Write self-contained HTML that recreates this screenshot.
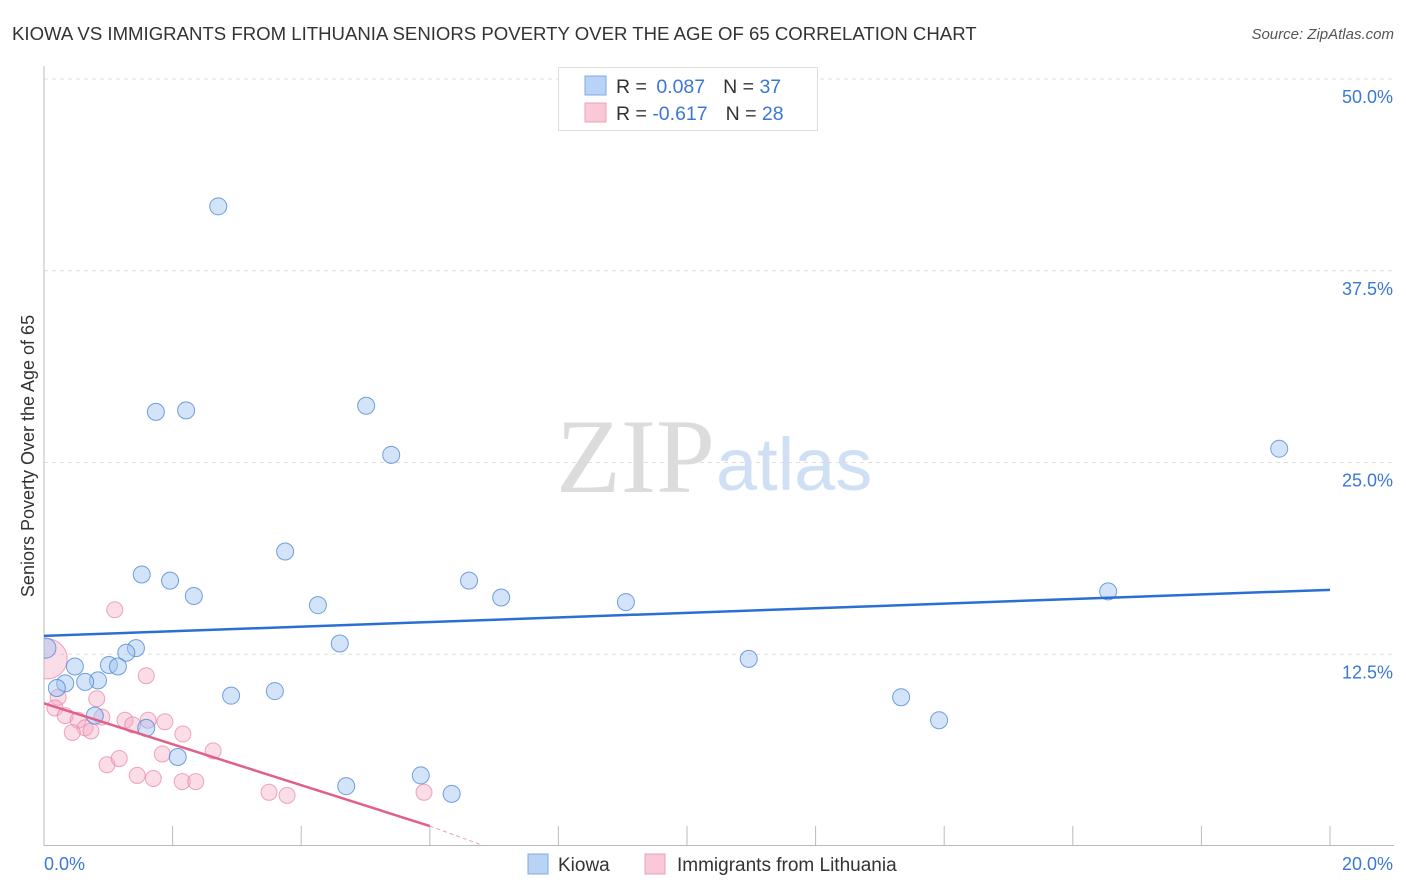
<!DOCTYPE html>
<html><head><meta charset="utf-8">
<style>
body{margin:0;background:#fff;font-family:"Liberation Sans",sans-serif;}
#wrap{position:relative;width:1406px;height:892px;overflow:hidden;}
</style></head>
<body>
<div id="wrap">
<svg id="chart" width="1406" height="892" xmlns="http://www.w3.org/2000/svg">
<defs><clipPath id="plotclip"><rect x="44" y="60" width="1360" height="786"/></clipPath></defs>
<text x="12" y="40" font-size="18.6" fill="#333">KIOWA VS IMMIGRANTS FROM LITHUANIA SENIORS POVERTY OVER THE AGE OF 65 CORRELATION CHART</text>
<text x="1394" y="39" font-size="15" fill="#555" font-style="italic" text-anchor="end">Source: ZipAtlas.com</text>
<text x="715" y="492" font-size="106" fill="#dcdcdc" text-anchor="end" font-family="Liberation Serif">ZIP</text>
<text x="716" y="490" font-size="74" fill="#cfe0f5">atlas</text>
<text transform="translate(34,456) rotate(-90)" font-size="18" fill="#333" text-anchor="middle">Seniors Poverty Over the Age of 65</text>
<g id="grid"></g><g id="marks" clip-path="url(#plotclip)"></g>
<g>
<rect x="558.5" y="67.5" width="259" height="63" fill="#fff" stroke="#ddd"/>
<rect x="585" y="76" width="21" height="19" fill="#b8d3f5" stroke="#7fa9e0"/>
<rect x="585" y="103" width="21" height="19" fill="#f9c9d7" stroke="#eda0b8"/>
<text x="616" y="93" font-size="19.5" fill="#333">R = <tspan fill="#3a78d4" dx="4">0.087</tspan><tspan dx="18" fill="#333">N = </tspan><tspan fill="#3a78d4">37</tspan></text>
<text x="616" y="120" font-size="19.5" fill="#333">R = <tspan fill="#3a78d4">-0.617</tspan><tspan dx="18" fill="#333">N = </tspan><tspan fill="#3a78d4">28</tspan></text>
</g>
<g>
<rect x="528" y="854" width="20" height="20" fill="#b8d3f5" stroke="#7fa9e0"/>
<text x="558" y="871" font-size="19" fill="#333">Kiowa</text>
<rect x="645" y="854" width="20" height="20" fill="#f9c9d7" stroke="#eda0b8"/>
<text x="677" y="871" font-size="19" fill="#333">Immigrants from Lithuania</text>
</g>
</svg>
</div>
<script>
const yTicks=[12.5,25,37.5,50];
const yTickLabels=["12.5%","25.0%","37.5%","50.0%"];
const xTickLabels=["0.0%","20.0%"];
const kiowaX=[2.71,1.74,2.21,5.01,5.40,19.21,3.75,1.52,1.96,2.33,4.26,6.61,7.11,9.05,16.55,4.60,1.43,1.28,10.96,0.03,0.48,1.01,1.15,0.33,0.84,0.64,0.20,2.91,3.59,13.33,13.92,0.79,1.59,2.08,4.70,5.86,6.34];
const kiowaY=[41.7,28.3,28.4,28.7,25.5,25.9,19.2,17.7,17.3,16.3,15.7,17.3,16.2,15.9,16.6,13.2,12.9,12.6,12.2,12.9,11.7,11.8,11.7,10.6,10.8,10.7,10.3,9.8,10.1,9.7,8.2,8.5,7.7,5.8,3.9,4.6,3.4];
const lithX=[1.10,1.59,0.22,0.82,0.17,0.33,0.90,0.53,0.64,0.44,0.73,1.26,1.38,1.62,1.88,2.16,2.63,1.84,0.98,1.17,1.45,1.70,2.15,2.36,3.50,3.78,5.91,0.05];
const lithY=[15.4,11.1,9.7,9.6,9.0,8.5,8.4,8.2,7.7,7.4,7.5,8.2,7.9,8.2,8.1,7.3,6.2,6.0,5.3,5.7,4.6,4.4,4.2,4.2,3.5,3.3,3.5,12.2];
const lithR=[8,8,8,8,8,8,8,8,8,8,8,8,8,8,8,8,8,8,8,8,8,8,8,8,8,8,8,20];
const kiowaTrend=[[0,13.7],[20,16.7]];
const lithTrend=[[0,9.3],[6,1.3],[6.85,0]];
const X0=44,X1=1330,Y0=846,Y50=79;
const sx=v=>X0+(X1-X0)*v/20, sy=v=>Y0-(Y0-Y50)*v/50;
const NS="http://www.w3.org/2000/svg";
const grid=document.getElementById('grid'),marks=document.getElementById('marks');
function mk(tag,attrs,parent){const e=document.createElementNS(NS,tag);for(const k in attrs)e.setAttribute(k,attrs[k]);parent.appendChild(e);return e;}
yTicks.forEach((t,i)=>{
 const l=mk('line',{x1:X0,x2:1394,y1:sy(t),y2:sy(t),stroke:'#ddd','stroke-dasharray':'4,4'},grid);
 
 
 const tx=mk('text',{x:1393,y:sy(t)+24,'font-size':18,fill:'#3a78d4','text-anchor':'end'},grid);
 tx.textContent=yTickLabels[i];
 
 
});
const ax=mk('line',{x1:X0,x2:X0,y1:66,y2:846,stroke:'#bbb'},grid);


const bx=mk('line',{x1:X0,x2:1394,y1:845.5,y2:845.5,stroke:'#bbb'},grid);


for(let i=1;i<=10;i++){
 const t=mk('line',{x1:sx(i*2),x2:sx(i*2),y1:826,y2:846,stroke:'#bbb'},grid);
 
 
}
[[44,'start'],[1393,'end']].forEach((p,i)=>{
 const t=mk('text',{x:p[0],y:870,'font-size':18,fill:'#3a78d4','text-anchor':p[1]},grid);
 t.textContent=xTickLabels[i];
 
 
});
lithX.forEach((v,i)=>{
 const c=mk('circle',{cx:sx(v),cy:sy(lithY[i]),r:lithR[i],fill:'rgba(246,170,195,0.4)',stroke:'rgba(230,130,165,0.7)','stroke-width':1},marks);
 
 
});
kiowaX.forEach((v,i)=>{
 const c=mk('circle',{cx:sx(v),cy:sy(kiowaY[i]),r:i==19?10:8.5,fill:'rgba(160,195,240,0.45)',stroke:'rgba(70,130,215,0.75)','stroke-width':1},marks);
 
 
});
const kl=mk('line',{x1:sx(kiowaTrend[0][0]),y1:sy(kiowaTrend[0][1]),x2:sx(kiowaTrend[1][0]),y2:sy(kiowaTrend[1][1]),stroke:'#2b6fd4','stroke-width':2.5},marks);


const pl=mk('line',{x1:sx(lithTrend[0][0]),y1:sy(lithTrend[0][1]),x2:sx(lithTrend[1][0]),y2:sy(lithTrend[1][1]),stroke:'#e0608a','stroke-width':2.5},marks);


const pd=mk('line',{x1:sx(lithTrend[1][0]),y1:sy(lithTrend[1][1]),x2:sx(lithTrend[2][0]),y2:sy(lithTrend[2][1]),stroke:'#e8a0b8','stroke-width':1,'stroke-dasharray':'4,3'},marks);


</script>
</body></html>
